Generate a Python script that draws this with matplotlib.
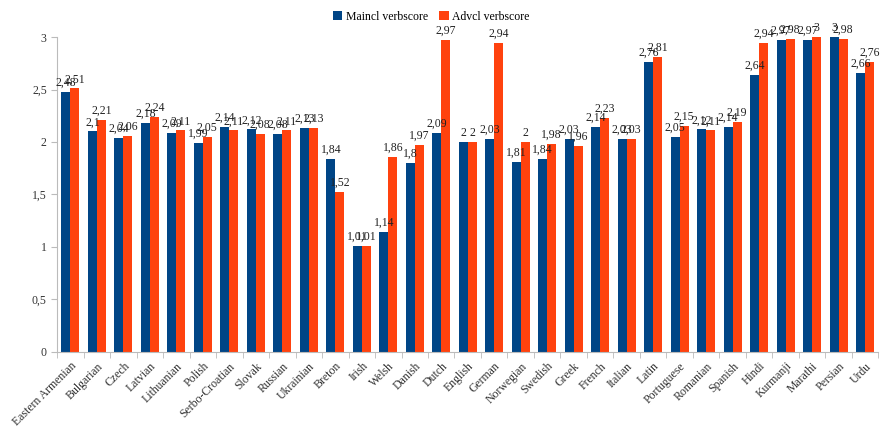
import numpy as np
import matplotlib
matplotlib.use("Agg")
import matplotlib.pyplot as plt

plt.rcParams['font.family'] = ['Liberation Serif', 'DejaVu Serif']

languages = ["Eastern Armenian", "Bulgarian", "Czech", "Latvian", "Lithuanian",
             "Polish", "Serbo-Croatian", "Slovak", "Russian", "Ukrainian",
             "Breton", "Irish", "Welsh", "Danish", "Dutch", "English", "German",
             "Norwegian", "Swedish", "Greek", "French", "Italian", "Latin",
             "Portuguese", "Romanian", "Spanish", "Hindi", "Kurmanji",
             "Marathi", "Persian", "Urdu"]
maincl = [2.48, 2.1, 2.04, 2.18, 2.09, 1.99, 2.14, 2.12, 2.08, 2.13,
          1.84, 1.01, 1.14, 1.8, 2.09, 2.0, 2.03, 1.81, 1.84, 2.03,
          2.14, 2.03, 2.76, 2.05, 2.12, 2.14, 2.64, 2.97, 2.97, 3.0, 2.66]
advcl = [2.51, 2.21, 2.06, 2.24, 2.11, 2.05, 2.11, 2.08, 2.11, 2.13,
         1.52, 1.01, 1.86, 1.97, 2.97, 2.0, 2.94, 2.0, 1.98, 1.96,
         2.23, 2.03, 2.81, 2.15, 2.11, 2.19, 2.94, 2.98, 3.0, 2.98, 2.76]

def comma(v):
    s = ("%.2f" % v).rstrip("0").rstrip(".")
    return s.replace(".", ",")

fig = plt.figure(figsize=(8.8, 4.36), dpi=100)
ax = fig.add_axes([0.065, 0.193, 0.933, 0.722])

x = np.arange(len(languages))
w = 0.34
b1 = ax.bar(x - w / 2, maincl, w, color="#004586", label="Maincl verbscore")
b2 = ax.bar(x + w / 2, advcl, w, color="#ff420e", label="Advcl verbscore")

for bars, vals in ((b1, maincl), (b2, advcl)):
    for r, v in zip(bars, vals):
        ax.text(r.get_x() + r.get_width() / 2, v + 0.03, comma(v),
                ha="center", va="bottom", fontsize=8.5, color="#222222",
                clip_on=False)

ax.set_xlim(-0.5, len(languages) - 0.5)
ax.set_ylim(0, 3)
ax.set_yticks(np.arange(0, 3.01, 0.5))
ax.set_yticklabels([comma(v) for v in np.arange(0, 3.01, 0.5)])

ax.set_xticks(x)
ax.set_xticklabels(languages, rotation=45, ha="right", rotation_mode="anchor")
ax.set_xticks(np.arange(-0.5, len(languages)), minor=True)
ax.tick_params(axis="x", which="major", length=0, pad=6)
ax.tick_params(axis="x", which="minor", length=4, color="#bbbbbb")
ax.tick_params(axis="y", length=4, color="#bbbbbb")
ax.tick_params(labelsize=8.5, labelcolor="#333333")

for s in ("top", "right"):
    ax.spines[s].set_visible(False)
for s in ("left", "bottom"):
    ax.spines[s].set_color("#bbbbbb")

fig.legend(loc="upper center", bbox_to_anchor=(0.49, 1.0), ncol=2,
           frameon=False, fontsize=8.5, handlelength=0.8, handleheight=0.8,
           columnspacing=1.0, handletextpad=0.3)

fig.savefig("out.png", dpi=100)
